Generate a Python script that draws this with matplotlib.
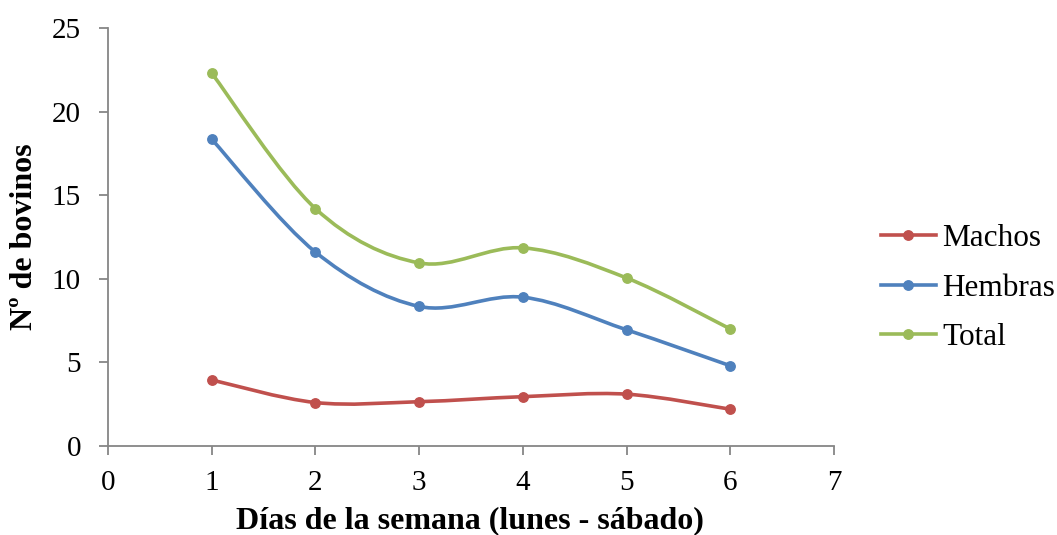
import numpy as np
import matplotlib
matplotlib.use("Agg")
import matplotlib.pyplot as plt
from matplotlib.path import Path
from matplotlib.patches import PathPatch
from matplotlib.lines import Line2D

plt.rcParams["font.family"] = ["Liberation Serif", "DejaVu Serif"]

dias = [1, 2, 3, 4, 5, 6]
machos = [3.95, 2.6, 2.65, 2.95, 3.1, 2.2]
hembras = [18.35, 11.6, 8.35, 8.9, 6.95, 4.8]
total = [22.3, 14.2, 10.95, 11.85, 10.05, 7.0]

series = [("Machos", machos, "#C0504D"),
          ("Hembras", hembras, "#4F81BD"),
          ("Total", total, "#9BBB59")]


def smooth_path(x, y):
    """Cubic Bezier path through the points (Catmull-Rom style tangents)."""
    pts = np.column_stack([x, y]).astype(float)
    n = len(pts)
    verts = [pts[0]]
    codes = [Path.MOVETO]
    for i in range(n - 1):
        p0 = pts[i - 1] if i > 0 else pts[i]
        p1 = pts[i]
        p2 = pts[i + 1]
        p3 = pts[i + 2] if i + 2 < n else pts[i + 1]
        c1 = p1 + (p2 - p0) / 6.0
        c2 = p2 - (p3 - p1) / 6.0
        verts += [c1, c2, p2]
        codes += [Path.CURVE4] * 3
    return Path(verts, codes)


W, H = 1057, 535
fig = plt.figure(figsize=(W / 100, H / 100), dpi=100)
ax = fig.add_axes([108 / W, 1 - 446 / H, 726 / W, 418 / H])

lw = 2.6
ms = 6.8
for name, vals, col in series:
    patch = PathPatch(smooth_path(dias, vals), facecolor="none",
                      edgecolor=col, lw=lw, capstyle="round",
                      joinstyle="round", zorder=2)
    ax.add_patch(patch)
    ax.plot(dias, vals, linestyle="none", marker="o", markersize=ms,
            color=col, zorder=3)

ax.set_xlim(0, 7)
ax.set_ylim(0, 25)
ax.set_xticks(range(0, 8))
ax.set_yticks(range(0, 26, 5))

axis_col = "#868686"
for s in ["top", "right"]:
    ax.spines[s].set_visible(False)
for s in ["left", "bottom"]:
    ax.spines[s].set_color(axis_col)
    ax.spines[s].set_linewidth(1.3)
ax.tick_params(axis="both", direction="out", length=6.5, width=1.3,
               color=axis_col, labelsize=21, labelcolor="black")
ax.tick_params(axis="y", pad=13)
ax.tick_params(axis="x", pad=11)

fig.text(470 / W, 1 - 521 / H, "Días de la semana (lunes - sábado)",
         fontsize=23, fontweight="bold", ha="center", va="center")
fig.text(25 / W, 1 - 237 / H, "Nº de bovinos", fontsize=23,
         fontweight="bold", rotation=90, ha="center", va="center")

handles = [Line2D([0], [0], color=col, lw=lw, marker="o", markersize=ms)
           for _, _, col in series]
labels = [name for name, _, _ in series]
fig.legend(handles, labels, loc="center left",
           bbox_to_anchor=(881 / W, 1 - 288 / H), frameon=False,
           fontsize=22.5, handlelength=1.75, handletextpad=0.2,
           labelspacing=0.65, borderaxespad=0, borderpad=0)

fig.savefig("out.png", dpi=100, facecolor="white")
